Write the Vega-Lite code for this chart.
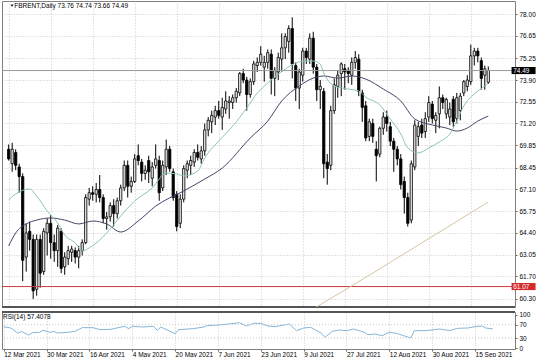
{
"$schema": "https://vega.github.io/schema/vega-lite/v6.json",
"padding": 0,
"background": "white",
"spacing": 1,
"config": {
 "font": "Liberation Sans",
 "view": {"stroke": "#808080", "strokeWidth": 1},
 "axis": {"labelFont": "Liberation Sans", "labelFontSize": 6.5, "labelColor": "#000", "gridColor": "#c8c8c8", "gridDash": [1, 2], "gridWidth": 1, "domain": false, "tickColor": "#666", "tickSize": 2, "labelPadding": 2, "labelOverlap": false}
},
"datasets": {
 "bars": [
{"i":0,"d":"2021-03-12","o":69.6,"h":69.9,"l":68.9,"c":69.0},
{"i":1,"d":"2021-03-15","o":68.7,"h":70.0,"l":68.2,"c":69.6},
{"i":2,"d":"2021-03-16","o":69.4,"h":69.6,"l":68.3,"c":68.6},
{"i":3,"d":"2021-03-17","o":68.5,"h":68.7,"l":66.9,"c":67.9},
{"i":4,"d":"2021-03-18","o":67.9,"h":68.1,"l":61.4,"c":62.7},
{"i":5,"d":"2021-03-19","o":62.9,"h":65.0,"l":62.0,"c":64.4},
{"i":6,"d":"2021-03-22","o":64.5,"h":65.1,"l":63.3,"c":64.0},
{"i":7,"d":"2021-03-23","o":64.0,"h":64.3,"l":60.3,"c":60.8},
{"i":8,"d":"2021-03-24","o":60.9,"h":64.3,"l":60.5,"c":64.0},
{"i":9,"d":"2021-03-25","o":64.0,"h":64.3,"l":61.0,"c":61.9},
{"i":10,"d":"2021-03-26","o":62.0,"h":64.7,"l":61.8,"c":64.5},
{"i":11,"d":"2021-03-29","o":64.4,"h":65.3,"l":63.0,"c":65.0},
{"i":12,"d":"2021-03-30","o":65.0,"h":65.5,"l":62.8,"c":63.8},
{"i":13,"d":"2021-03-31","o":63.8,"h":64.3,"l":62.6,"c":63.3},
{"i":14,"d":"2021-04-01","o":63.3,"h":64.9,"l":62.3,"c":64.7},
{"i":15,"d":"2021-04-05","o":64.5,"h":64.7,"l":61.9,"c":62.2},
{"i":16,"d":"2021-04-06","o":62.3,"h":63.2,"l":61.8,"c":62.9},
{"i":17,"d":"2021-04-07","o":62.8,"h":63.6,"l":62.4,"c":63.3},
{"i":18,"d":"2021-04-08","o":63.2,"h":63.6,"l":62.6,"c":63.4},
{"i":19,"d":"2021-04-09","o":63.3,"h":63.5,"l":62.5,"c":62.9},
{"i":20,"d":"2021-04-12","o":62.9,"h":63.6,"l":62.2,"c":63.3},
{"i":21,"d":"2021-04-13","o":63.3,"h":64.0,"l":63.0,"c":63.8},
{"i":22,"d":"2021-04-14","o":63.8,"h":66.8,"l":63.7,"c":66.6},
{"i":23,"d":"2021-04-15","o":66.5,"h":67.2,"l":66.1,"c":66.9},
{"i":24,"d":"2021-04-16","o":66.9,"h":67.3,"l":66.4,"c":66.8},
{"i":25,"d":"2021-04-19","o":66.8,"h":67.5,"l":66.3,"c":67.1},
{"i":26,"d":"2021-04-20","o":67.1,"h":68.0,"l":66.3,"c":66.6},
{"i":27,"d":"2021-04-21","o":66.6,"h":66.8,"l":65.0,"c":65.3},
{"i":28,"d":"2021-04-22","o":65.3,"h":65.7,"l":64.6,"c":65.4},
{"i":29,"d":"2021-04-23","o":65.4,"h":66.3,"l":65.1,"c":66.1},
{"i":30,"d":"2021-04-26","o":66.1,"h":66.5,"l":64.8,"c":65.6},
{"i":31,"d":"2021-04-27","o":65.6,"h":66.6,"l":65.3,"c":66.4},
{"i":32,"d":"2021-04-28","o":66.4,"h":67.4,"l":66.1,"c":67.2},
{"i":33,"d":"2021-04-29","o":67.2,"h":68.9,"l":67.0,"c":68.6},
{"i":34,"d":"2021-04-30","o":68.6,"h":68.9,"l":66.6,"c":67.3},
{"i":35,"d":"2021-05-03","o":67.3,"h":67.9,"l":66.9,"c":67.6},
{"i":36,"d":"2021-05-04","o":67.6,"h":69.3,"l":67.5,"c":69.0},
{"i":37,"d":"2021-05-05","o":69.2,"h":69.9,"l":68.6,"c":68.9},
{"i":38,"d":"2021-05-06","o":68.8,"h":69.0,"l":67.6,"c":68.1},
{"i":39,"d":"2021-05-07","o":68.1,"h":68.6,"l":67.7,"c":68.3},
{"i":40,"d":"2021-05-10","o":68.9,"h":69.2,"l":67.5,"c":68.2},
{"i":41,"d":"2021-05-11","o":67.8,"h":68.8,"l":67.3,"c":68.5},
{"i":42,"d":"2021-05-12","o":68.6,"h":69.9,"l":68.4,"c":69.0},
{"i":43,"d":"2021-05-13","o":68.9,"h":69.2,"l":66.4,"c":66.9},
{"i":44,"d":"2021-05-14","o":67.2,"h":68.9,"l":67.0,"c":68.6},
{"i":45,"d":"2021-05-17","o":68.5,"h":70.2,"l":68.0,"c":69.6},
{"i":46,"d":"2021-05-18","o":69.6,"h":69.8,"l":68.2,"c":68.4},
{"i":47,"d":"2021-05-19","o":68.2,"h":68.4,"l":66.4,"c":66.6},
{"i":48,"d":"2021-05-20","o":66.8,"h":67.0,"l":64.5,"c":64.8},
{"i":49,"d":"2021-05-21","o":65.0,"h":66.8,"l":64.7,"c":66.5},
{"i":50,"d":"2021-05-24","o":66.5,"h":68.6,"l":66.3,"c":68.4},
{"i":51,"d":"2021-05-25","o":68.3,"h":68.9,"l":67.8,"c":68.7},
{"i":52,"d":"2021-05-26","o":68.6,"h":69.2,"l":68.0,"c":68.9},
{"i":53,"d":"2021-05-27","o":68.8,"h":69.6,"l":68.5,"c":69.4},
{"i":54,"d":"2021-05-28","o":69.4,"h":69.9,"l":68.9,"c":69.1},
{"i":55,"d":"2021-05-31","o":69.0,"h":69.8,"l":68.7,"c":69.5},
{"i":56,"d":"2021-06-01","o":69.5,"h":71.2,"l":69.2,"c":70.8},
{"i":57,"d":"2021-06-02","o":70.8,"h":71.6,"l":70.4,"c":71.4},
{"i":58,"d":"2021-06-03","o":71.3,"h":72.0,"l":70.6,"c":71.7},
{"i":59,"d":"2021-06-04","o":71.6,"h":72.3,"l":71.1,"c":72.0},
{"i":60,"d":"2021-06-07","o":72.0,"h":72.6,"l":71.5,"c":71.7},
{"i":61,"d":"2021-06-08","o":71.6,"h":72.8,"l":70.8,"c":72.2},
{"i":62,"d":"2021-06-09","o":72.1,"h":73.2,"l":71.8,"c":72.6},
{"i":63,"d":"2021-06-10","o":72.5,"h":72.9,"l":71.5,"c":72.6},
{"i":64,"d":"2021-06-11","o":72.5,"h":73.0,"l":72.1,"c":72.8},
{"i":65,"d":"2021-06-14","o":72.8,"h":73.4,"l":72.5,"c":73.2},
{"i":66,"d":"2021-06-15","o":73.1,"h":74.4,"l":72.9,"c":74.3},
{"i":67,"d":"2021-06-16","o":74.3,"h":74.6,"l":73.7,"c":73.9},
{"i":68,"d":"2021-06-17","o":73.9,"h":74.1,"l":72.0,"c":73.0},
{"i":69,"d":"2021-06-18","o":73.0,"h":74.0,"l":72.8,"c":73.8},
{"i":70,"d":"2021-06-21","o":73.8,"h":75.1,"l":73.6,"c":74.9},
{"i":71,"d":"2021-06-22","o":74.8,"h":75.3,"l":74.4,"c":75.0},
{"i":72,"d":"2021-06-23","o":75.0,"h":76.0,"l":74.8,"c":75.5},
{"i":73,"d":"2021-06-24","o":74.7,"h":75.4,"l":73.8,"c":75.0},
{"i":74,"d":"2021-06-25","o":75.0,"h":75.8,"l":74.6,"c":75.6},
{"i":75,"d":"2021-06-28","o":75.5,"h":75.8,"l":73.0,"c":74.0},
{"i":76,"d":"2021-06-29","o":74.0,"h":74.7,"l":72.9,"c":74.5},
{"i":77,"d":"2021-06-30","o":74.4,"h":75.6,"l":73.9,"c":75.3},
{"i":78,"d":"2021-07-01","o":75.2,"h":76.8,"l":74.4,"c":75.9},
{"i":79,"d":"2021-07-02","o":75.9,"h":76.8,"l":75.2,"c":76.6},
{"i":80,"d":"2021-07-05","o":76.3,"h":77.3,"l":75.6,"c":77.1},
{"i":81,"d":"2021-07-06","o":77.1,"h":77.8,"l":74.0,"c":74.9},
{"i":82,"d":"2021-07-07","o":74.8,"h":75.0,"l":72.6,"c":73.4},
{"i":83,"d":"2021-07-08","o":73.4,"h":74.6,"l":72.1,"c":74.4},
{"i":84,"d":"2021-07-09","o":74.2,"h":75.9,"l":73.8,"c":75.7},
{"i":85,"d":"2021-07-12","o":75.7,"h":75.9,"l":74.9,"c":75.3},
{"i":86,"d":"2021-07-13","o":75.2,"h":76.8,"l":74.9,"c":76.5},
{"i":87,"d":"2021-07-14","o":76.5,"h":76.9,"l":74.3,"c":74.7},
{"i":88,"d":"2021-07-15","o":74.7,"h":74.9,"l":72.6,"c":73.3},
{"i":89,"d":"2021-07-16","o":73.3,"h":73.9,"l":72.1,"c":73.5},
{"i":90,"d":"2021-07-19","o":73.2,"h":73.4,"l":67.8,"c":68.7},
{"i":91,"d":"2021-07-20","o":68.8,"h":69.3,"l":67.4,"c":68.4},
{"i":92,"d":"2021-07-21","o":68.6,"h":72.3,"l":68.3,"c":72.0},
{"i":93,"d":"2021-07-22","o":72.0,"h":74.0,"l":71.8,"c":73.6},
{"i":94,"d":"2021-07-23","o":73.5,"h":74.5,"l":72.8,"c":74.2},
{"i":95,"d":"2021-07-26","o":74.3,"h":75.0,"l":72.9,"c":74.9},
{"i":96,"d":"2021-07-27","o":74.6,"h":74.9,"l":73.3,"c":74.4},
{"i":97,"d":"2021-07-28","o":74.5,"h":74.7,"l":73.7,"c":74.3},
{"i":98,"d":"2021-07-29","o":74.2,"h":75.3,"l":73.6,"c":75.0},
{"i":99,"d":"2021-07-30","o":75.0,"h":75.7,"l":74.6,"c":75.3},
{"i":100,"d":"2021-08-02","o":75.2,"h":75.5,"l":72.9,"c":73.2},
{"i":101,"d":"2021-08-03","o":73.1,"h":73.3,"l":71.3,"c":72.2},
{"i":102,"d":"2021-08-04","o":72.3,"h":72.6,"l":70.1,"c":70.3},
{"i":103,"d":"2021-08-05","o":70.4,"h":71.5,"l":70.1,"c":71.3},
{"i":104,"d":"2021-08-06","o":71.2,"h":71.5,"l":70.0,"c":70.4},
{"i":105,"d":"2021-08-09","o":69.6,"h":70.1,"l":67.6,"c":69.2},
{"i":106,"d":"2021-08-10","o":69.3,"h":71.0,"l":69.1,"c":70.9},
{"i":107,"d":"2021-08-11","o":70.9,"h":71.9,"l":70.5,"c":71.6},
{"i":108,"d":"2021-08-12","o":71.6,"h":72.0,"l":70.7,"c":71.2},
{"i":109,"d":"2021-08-13","o":71.0,"h":71.3,"l":69.8,"c":70.1},
{"i":110,"d":"2021-08-16","o":70.1,"h":70.3,"l":68.2,"c":69.6},
{"i":111,"d":"2021-08-17","o":69.6,"h":69.8,"l":68.6,"c":69.0},
{"i":112,"d":"2021-08-18","o":69.0,"h":69.3,"l":67.1,"c":67.4},
{"i":113,"d":"2021-08-19","o":67.6,"h":67.9,"l":65.6,"c":66.6},
{"i":114,"d":"2021-08-20","o":66.6,"h":66.9,"l":64.8,"c":65.0},
{"i":115,"d":"2021-08-23","o":65.2,"h":68.9,"l":65.0,"c":68.7},
{"i":116,"d":"2021-08-24","o":68.5,"h":71.4,"l":68.3,"c":71.1},
{"i":117,"d":"2021-08-25","o":70.4,"h":71.3,"l":69.8,"c":71.0},
{"i":118,"d":"2021-08-26","o":71.1,"h":71.5,"l":70.3,"c":70.6},
{"i":119,"d":"2021-08-27","o":70.7,"h":71.9,"l":70.3,"c":71.5},
{"i":120,"d":"2021-08-30","o":71.6,"h":72.9,"l":71.3,"c":72.5},
{"i":121,"d":"2021-08-31","o":72.4,"h":72.6,"l":71.2,"c":71.5},
{"i":122,"d":"2021-09-01","o":71.4,"h":71.9,"l":70.6,"c":71.7},
{"i":123,"d":"2021-09-02","o":71.8,"h":73.5,"l":70.9,"c":72.8},
{"i":124,"d":"2021-09-03","o":72.8,"h":73.0,"l":72.1,"c":72.5},
{"i":125,"d":"2021-09-06","o":71.8,"h":72.8,"l":71.5,"c":72.7},
{"i":126,"d":"2021-09-07","o":71.6,"h":72.5,"l":71.1,"c":72.1},
{"i":127,"d":"2021-09-08","o":72.7,"h":72.9,"l":71.0,"c":71.3},
{"i":128,"d":"2021-09-09","o":71.5,"h":73.1,"l":71.2,"c":72.8},
{"i":129,"d":"2021-09-10","o":72.0,"h":73.1,"l":71.4,"c":72.9},
{"i":130,"d":"2021-09-13","o":73.1,"h":73.9,"l":72.9,"c":73.8},
{"i":131,"d":"2021-09-14","o":73.5,"h":74.2,"l":73.2,"c":73.9},
{"i":132,"d":"2021-09-15","o":73.8,"h":76.1,"l":73.6,"c":75.4},
{"i":133,"d":"2021-09-16","o":75.4,"h":75.9,"l":74.8,"c":75.7},
{"i":134,"d":"2021-09-17","o":75.7,"h":75.9,"l":75.0,"c":75.4},
{"i":135,"d":"2021-09-20","o":75.1,"h":75.3,"l":73.3,"c":74.0},
{"i":136,"d":"2021-09-21","o":74.2,"h":74.8,"l":73.3,"c":74.6},
{"i":137,"d":"2021-09-22","o":73.76,"h":74.74,"l":73.66,"c":74.49}
 ],
 "fast": [{"i":0,"v":66.45},{"i":2,"v":66.82},{"i":6,"v":67.13},{"i":8,"v":66.7},{"i":11,"v":65.76},{"i":14,"v":65.02},{"i":16,"v":64.27},{"i":19,"v":63.78},{"i":21,"v":63.28},{"i":23,"v":63.47},{"i":28,"v":64.4},{"i":32,"v":65.45},{"i":36,"v":66.39},{"i":41,"v":67.19},{"i":45,"v":68.12},{"i":48,"v":68.06},{"i":50,"v":67.94},{"i":54,"v":68.25},{"i":56,"v":69.06},{"i":60,"v":70.11},{"i":64,"v":71.04},{"i":68,"v":72.16},{"i":71,"v":73.09},{"i":74,"v":73.71},{"i":79,"v":74.58},{"i":82,"v":74.96},{"i":85,"v":75.08},{"i":87,"v":75.08},{"i":89,"v":74.89},{"i":90,"v":74.34},{"i":93,"v":73.53},{"i":97,"v":73.34},{"i":100,"v":73.22},{"i":102,"v":72.84},{"i":106,"v":72.35},{"i":109,"v":71.48},{"i":112,"v":70.55},{"i":114,"v":69.68},{"i":117,"v":69.37},{"i":120,"v":69.68},{"i":123,"v":70.05},{"i":126,"v":70.55},{"i":128,"v":71.35},{"i":130,"v":72.29},{"i":133,"v":73.03},{"i":136,"v":73.53},{"i":137,"v":73.71}],
 "slow": [{"i":0,"v":63.59},{"i":2,"v":64.4},{"i":5,"v":64.96},{"i":8,"v":65.2},{"i":12,"v":65.33},{"i":16,"v":65.2},{"i":20,"v":64.96},{"i":24,"v":65.14},{"i":28,"v":64.96},{"i":32,"v":64.46},{"i":37,"v":65.14},{"i":42,"v":66.07},{"i":50,"v":67.01},{"i":56,"v":67.75},{"i":61,"v":68.43},{"i":69,"v":70.3},{"i":74,"v":71.35},{"i":78,"v":72.6},{"i":83,"v":73.53},{"i":87,"v":74.02},{"i":90,"v":74.15},{"i":94,"v":74.02},{"i":98,"v":74.15},{"i":102,"v":73.96},{"i":107,"v":73.34},{"i":112,"v":72.6},{"i":116,"v":71.48},{"i":121,"v":71.11},{"i":125,"v":70.92},{"i":128,"v":70.73},{"i":131,"v":70.92},{"i":134,"v":71.35},{"i":137,"v":71.66}],
 "ma200": [{"i":86,"v":59.56},{"i":97,"v":60.98},{"i":107,"v":62.31},{"i":117,"v":63.65},{"i":127,"v":64.98},{"i":137,"v":66.32}],
 "rsi": [{"i":0,"v":64},{"i":2,"v":60},{"i":4,"v":44},{"i":5,"v":50},{"i":6,"v":44},{"i":7,"v":39},{"i":8,"v":46},{"i":10,"v":47},{"i":11,"v":53},{"i":13,"v":47},{"i":14,"v":50},{"i":15,"v":45},{"i":18,"v":47},{"i":20,"v":50},{"i":22,"v":61},{"i":25,"v":61},{"i":27,"v":55},{"i":30,"v":56},{"i":32,"v":61},{"i":34,"v":65},{"i":35,"v":58},{"i":36,"v":65},{"i":39,"v":63},{"i":42,"v":65},{"i":43,"v":53},{"i":44,"v":63},{"i":46,"v":53},{"i":48,"v":43},{"i":49,"v":55},{"i":53,"v":58},{"i":56,"v":63},{"i":57,"v":67},{"i":60,"v":69},{"i":63,"v":72},{"i":66,"v":76},{"i":68,"v":66},{"i":70,"v":74},{"i":72,"v":74},{"i":74,"v":66},{"i":76,"v":64},{"i":79,"v":70},{"i":80,"v":72},{"i":82,"v":52},{"i":84,"v":60},{"i":86,"v":62},{"i":88,"v":50},{"i":89,"v":44},{"i":90,"v":32},{"i":92,"v":50},{"i":94,"v":54},{"i":96,"v":52},{"i":98,"v":57},{"i":101,"v":47},{"i":102,"v":40},{"i":104,"v":42},{"i":106,"v":37},{"i":108,"v":47},{"i":110,"v":44},{"i":112,"v":37},{"i":114,"v":30},{"i":115,"v":52},{"i":118,"v":52},{"i":120,"v":54},{"i":122,"v":57},{"i":124,"v":54},{"i":125,"v":52},{"i":127,"v":59},{"i":130,"v":60},{"i":132,"v":64},{"i":134,"v":66},{"i":135,"v":60},{"i":137,"v":57.4}]
},
"vconcat": [
 {
  "width": 513,
  "height": 306,
  "layer": [
   {
    "data": {"name": "bars"},
    "mark": {"type": "rule", "color": "#000", "strokeWidth": 1},
    "encoding": {
     "x": {"field": "i", "type": "quantitative", "scale": {"domain": [-0.48, 143.2], "nice": false, "zero": false},
       "axis": {"title": null, "values": [0,12,24,36,48,60,72,84,96,108,120,132], "tickCount": 40, "labels": false, "ticks": false, "grid": true}},
     "y": {"field": "l", "type": "quantitative", "scale": {"domain": [59.8, 78.81], "nice": false, "zero": false},
       "axis": {"title": null, "orient": "right", "values": [60.3,61.7,63.05,64.4,65.75,67.1,68.45,69.85,71.2,72.55,73.9,75.25,76.65,78.0], "tickCount": 40, "format": ".2f", "grid": true, "labelPadding": 2, "labelOverlap": false, "labelBound": false}},
     "y2": {"field": "h"}
    }
   },
   {
    "data": {"name": "bars"},
    "mark": {"type": "bar", "width": 2.3, "stroke": "#000", "strokeWidth": 0.8},
    "encoding": {
     "x": {"field": "i", "type": "quantitative"},
     "y": {"field": "o", "type": "quantitative"},
     "y2": {"field": "c"},
     "fill": {"condition": {"test": "datum.c >= datum.o", "value": "#e6e6e6"}, "value": "#000"}
    }
   },
   {
    "data": {"values": [{"p": 74.49}]},
    "mark": {"type": "rule", "color": "#9a9a9a", "strokeWidth": 1},
    "encoding": {"y": {"field": "p", "type": "quantitative"}}
   },
   {
    "data": {"values": [{"p": 61.07}]},
    "mark": {"type": "rule", "color": "#cc3b3b", "strokeWidth": 1},
    "encoding": {"y": {"field": "p", "type": "quantitative"}}
   },
   {
    "data": {"values": [{"p": 59.8}]},
    "mark": {"type": "rule", "color": "#555", "strokeWidth": 2},
    "encoding": {"y": {"field": "p", "type": "quantitative"}}
   },
   {
    "data": {"name": "ma200"},
    "mark": {"type": "line", "color": "#d6c6a4", "strokeWidth": 1, "clip": true},
    "encoding": {"x": {"field": "i", "type": "quantitative"}, "y": {"field": "v", "type": "quantitative"}}
   },
   {
    "data": {"name": "slow"},
    "mark": {"type": "line", "color": "#45456a", "strokeWidth": 1, "interpolate": "monotone"},
    "encoding": {"x": {"field": "i", "type": "quantitative"}, "y": {"field": "v", "type": "quantitative"}}
   },
   {
    "data": {"name": "fast"},
    "mark": {"type": "line", "color": "#8cc4b6", "strokeWidth": 1, "interpolate": "monotone"},
    "encoding": {"x": {"field": "i", "type": "quantitative"}, "y": {"field": "v", "type": "quantitative"}}
   },
   {
    "data": {"values": [{"a": 143.65, "b": 150.5, "p1": 74.71, "p2": 74.27, "col": "#000"}, {"a": 143.65, "b": 150.5, "p1": 61.29, "p2": 60.85, "col": "#d42a2a"}]},
    "mark": {"type": "rect", "clip": false},
    "encoding": {
     "x": {"field": "a", "type": "quantitative"}, "x2": {"field": "b"},
     "y": {"field": "p1", "type": "quantitative"}, "y2": {"field": "p2"},
     "color": {"field": "col", "type": "nominal", "scale": null}
    }
   },
   {
    "data": {"values": [{"a": 144.1, "p": 74.49, "t": "74.49"}, {"a": 144.1, "p": 61.07, "t": "61.07"}]},
    "mark": {"type": "text", "align": "left", "baseline": "middle", "fontSize": 6.5, "color": "#fff", "clip": false},
    "encoding": {"x": {"field": "a", "type": "quantitative"}, "y": {"field": "p", "type": "quantitative"}, "text": {"field": "t"}}
   },
   {
    "data": {"values": [{"a": 0.3, "p": 78.52, "t": "▼", "s": 4.5}, {"a": 1.6, "p": 78.5, "t": "FBRENT,Daily  73.76 74.74 73.66 74.49", "s": 6.5}]},
    "mark": {"type": "text", "align": "left", "baseline": "middle", "color": "#000"},
    "encoding": {"x": {"field": "a", "type": "quantitative"}, "y": {"field": "p", "type": "quantitative"}, "text": {"field": "t"}, "size": {"field": "s", "type": "quantitative", "scale": null}}
   }
  ]
 },
 {
  "width": 513,
  "height": 37,
  "layer": [
   {
    "data": {"name": "rsi"},
    "mark": {"type": "line", "color": "#86b6d6", "strokeWidth": 1},
    "encoding": {
     "x": {"field": "i", "type": "quantitative", "scale": {"domain": [-0.48, 143.2], "nice": false, "zero": false},
       "axis": {"title": null, "values": [0,12,24,36,48,60,72,84,96,108,120,132], "tickCount": 40, "grid": true, "tickSize": 2, "labelAlign": "left", "labelPadding": 0, "labelFlush": false, "labelOverlap": false, "labelBound": false,
         "labelExpr": "['12 Mar 2021','30 Mar 2021','16 Apr 2021','4 May 2021','20 May 2021','7 Jun 2021','23 Jun 2021','9 Jul 2021','27 Jul 2021','12 Aug 2021','30 Aug 2021','15 Sep 2021'][round(datum.value/12)]"}},
     "y": {"field": "v", "type": "quantitative", "scale": {"domain": [-3, 108], "nice": false, "zero": false},
       "axis": {"title": null, "orient": "right", "values": [0, 30, 70, 100], "tickCount": 40, "grid": false, "labelPadding": 2, "labelOverlap": false, "labelBound": false}}
    }
   },
   {
    "data": {"values": [{"r": 30}, {"r": 70}]},
    "mark": {"type": "rule", "color": "#c8c8c8", "strokeDash": [1, 2], "strokeWidth": 1},
    "encoding": {"y": {"field": "r", "type": "quantitative"}}
   },
   {
    "data": {"values": [{"r": 108}]},
    "mark": {"type": "rule", "color": "#555", "strokeWidth": 2},
    "encoding": {"y": {"field": "r", "type": "quantitative"}}
   },
   {
    "data": {"values": [{"a": -0.2, "r": 93, "t": "RSI(14) 57.4078"}]},
    "mark": {"type": "text", "align": "left", "baseline": "middle", "fontSize": 6.5, "color": "#000"},
    "encoding": {"x": {"field": "a", "type": "quantitative"}, "y": {"field": "r", "type": "quantitative"}, "text": {"field": "t"}}
   }
  ]
 }
]
}
